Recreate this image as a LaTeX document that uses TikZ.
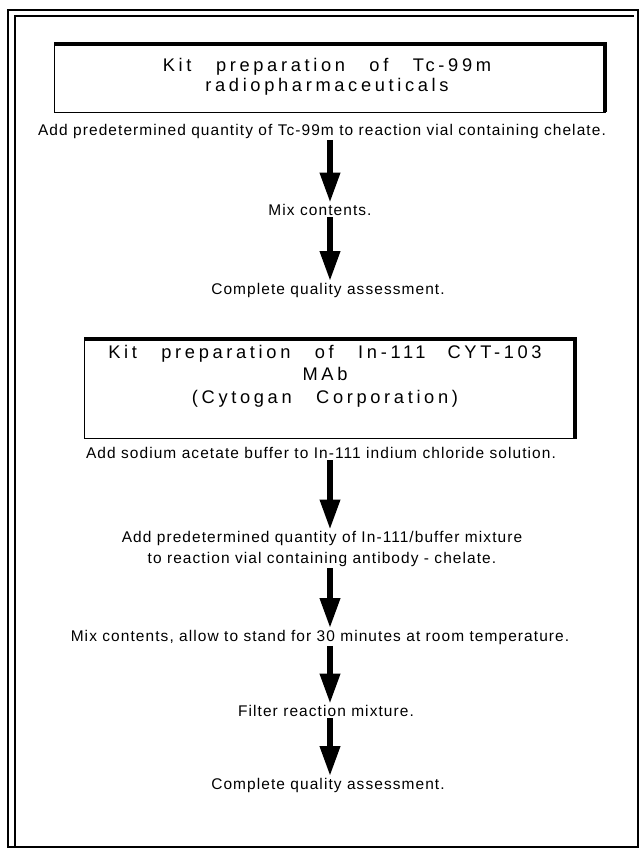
\documentclass[tikz,border=0pt]{standalone}
\usepackage{fontspec}
\setmainfont{Liberation Sans}
\newfontfamily\titlefont[LetterSpace=20,WordSpace=2.8]{Liberation Sans}
\newfontfamily\stepfont[LetterSpace=7]{Liberation Sans}
\usetikzlibrary{arrows.meta}

\begin{document}
\begin{tikzpicture}[x=0.025cm,y=-0.025cm,
  txt/.style={font=\stepfont\fontsize{11}{15}\selectfont, inner sep=1pt, align=center},
  ttl/.style={font=\titlefont\fontsize{13}{16}\selectfont, inner sep=0pt, align=center},
  flow/.style={line width=0.15cm, -{Triangle[width=0.48cm,length=0.75cm]}}]
\useasboundingbox (0,0) rectangle (641,848);
\draw[line width=2pt] (8,10) rectangle (638,847);
\draw[line width=1pt] (15,847) -- (15,16) -- (634,16);
\draw[line width=0.6pt] (54,43) rectangle (605,112);
\draw[line width=3pt] (54,44) -- (605,44) -- (605,112);
\draw[line width=0.6pt] (84,338) rectangle (576,438);
\draw[line width=3pt] (84,339) -- (575,339) -- (575,438);
\node[ttl, font=\titlefont\fontsize{13}{14}\selectfont] (kit1) at (327,77) {Kit preparation of Tc-99m\\radiopharmaceuticals};
\node[txt] (a1) at (322,131) {Add predetermined quantity of Tc-99m to reaction vial containing chelate.};
\node[txt] (a2) at (320,210) {Mix contents.};
\node[txt] (a3) at (328,290) {Complete quality assessment.};
\node[ttl] (kit2) at (325,376) {Kit preparation of In-111\hspace{1.2em}CYT-103\\MAb\\(Cytogan Corporation)};
\node[txt] (b1) at (321,453) {Add sodium acetate buffer to In-111 indium chloride solution.};
\node[txt] (b2) at (322,549) {Add predetermined quantity of In-111/buffer mixture\\to reaction vial containing antibody - chelate.};
\node[txt] (b3) at (320,637) {Mix contents, allow to stand for 30 minutes at room temperature.};
\node[txt] (b4) at (326,711) {Filter reaction mixture.};
\node[txt] (b5) at (328,785) {Complete quality assessment.};
\coordinate (axis) at (330,0);
\foreach \p/\q in {a1/a2,a2/a3,b1/b2,b2/b3,b3/b4,b4/b5}
  \draw[flow] (\p.south -| axis) -- (\q.north -| axis);
\end{tikzpicture}
\end{document}
